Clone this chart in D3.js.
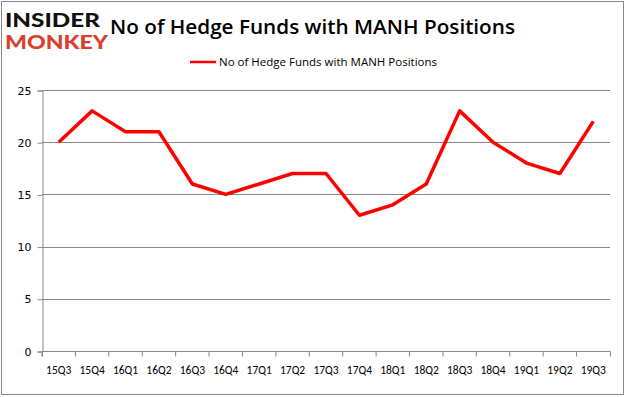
<!DOCTYPE html>
<html><head><meta charset="utf-8">
<script src="https://cdn.jsdelivr.net/npm/d3@7"></script>
<style>body{margin:0;background:#fff}svg{display:block}</style>
</head><body>
<script>
const categories = ["15Q3","15Q4","16Q1","16Q2","16Q3","16Q4","17Q1","17Q2","17Q3","17Q4","18Q1","18Q2","18Q3","18Q4","19Q1","19Q2","19Q3"];
const values = [20,23,21,21,16,15,16,17,17,13,14,16,23,20,18,17,22];
const yTicks = [0,5,10,15,20,25];
const seriesName = "No of Hedge Funds with MANH Positions";
const title = "No of Hedge Funds with MANH Positions";

const W = 626, H = 397;
const svg = d3.select("body").append("svg").attr("width", W).attr("height", H);
svg.append("rect").attr("x",1.5).attr("y",1.5).attr("width",W-4).attr("height",H-4)
  .attr("fill","#fff").attr("stroke","#888").attr("stroke-width",1);

const L = 42, R = 610, T = 90, B = 351;
const x = d3.scaleBand().domain(categories).range([L, R]);
const y = d3.scaleLinear().domain([0, 25]).range([B, T]);

// gridlines
svg.append("g").selectAll("line").data(yTicks.filter(d=>d>0)).join("line")
  .attr("x1", L).attr("x2", R).attr("y1", d=>Math.round(y(d))+0.5).attr("y2", d=>Math.round(y(d))+0.5)
  .attr("stroke","#888").attr("stroke-width",1);

// y axis
const yAxis = d3.axisLeft(y).tickValues(yTicks).tickSize(5).tickPadding(6);
const gy = svg.append("g").attr("transform",`translate(${L+0.5},0.5)`).call(yAxis);
gy.select(".domain").attr("stroke","#888");
gy.selectAll(".tick line").attr("stroke","#888");
gy.selectAll("text").attr("font-family","Verdana, DejaVu Sans, sans-serif").attr("font-size",11).attr("fill","#000");

// x axis
const xAxis = d3.axisBottom(x).tickSize(5).tickPadding(9).tickSizeOuter(5);
const gx = svg.append("g").attr("transform",`translate(0,${B+0.5})`).call(xAxis);
gx.select(".domain").attr("stroke","#888").attr("d", `M${L+0.5},5V0H${R+0.5}V5`);
gx.selectAll(".tick line").attr("stroke","#888").attr("transform", `translate(${-x.bandwidth()/2},0)`);
gx.selectAll("text").attr("font-family","Calibri, Carlito, 'Open Sans', sans-serif").attr("font-size",11.5).attr("fill","#000");

// line
const line = d3.line().x((d,i)=>x(categories[i]) + x.bandwidth()/2).y(d=>y(d));
svg.append("path").datum(values).attr("d", line).attr("fill","none")
  .attr("stroke","#ff0000").attr("stroke-width",3.5).attr("stroke-linejoin","round");

// title
svg.append("text").attr("x",110).attr("y",34).text(title)
  .attr("font-family","'Open Sans', Calibri, sans-serif").attr("font-weight",600).attr("font-size",20.5)
  .attr("textLength",405).attr("lengthAdjust","spacingAndGlyphs").attr("fill","#000");

// legend
svg.append("line").attr("x1",190).attr("x2",216).attr("y1",62).attr("y2",62)
  .attr("stroke","#ff0000").attr("stroke-width",2.5);
svg.append("text").attr("x",219).attr("y",66).text(seriesName)
  .attr("font-family","'Open Sans', Calibri, sans-serif").attr("font-size",11)
  .attr("textLength",218).attr("lengthAdjust","spacingAndGlyphs").attr("fill","#000");

// logo
svg.append("text").attr("x",5).attr("y",27).text("INSIDER")
  .attr("font-family","Lato, 'DejaVu Sans', sans-serif").attr("font-weight",900).attr("font-size",18)
  .attr("textLength",95).attr("lengthAdjust","spacingAndGlyphs").attr("fill","#111");
svg.append("text").attr("x",5).attr("y",49).text("MONKEY")
  .attr("font-family","Lato, 'DejaVu Sans', sans-serif").attr("font-weight",900).attr("font-size",18)
  .attr("textLength",103).attr("lengthAdjust","spacingAndGlyphs").attr("fill","#d9402b");
</script>
</body></html>
